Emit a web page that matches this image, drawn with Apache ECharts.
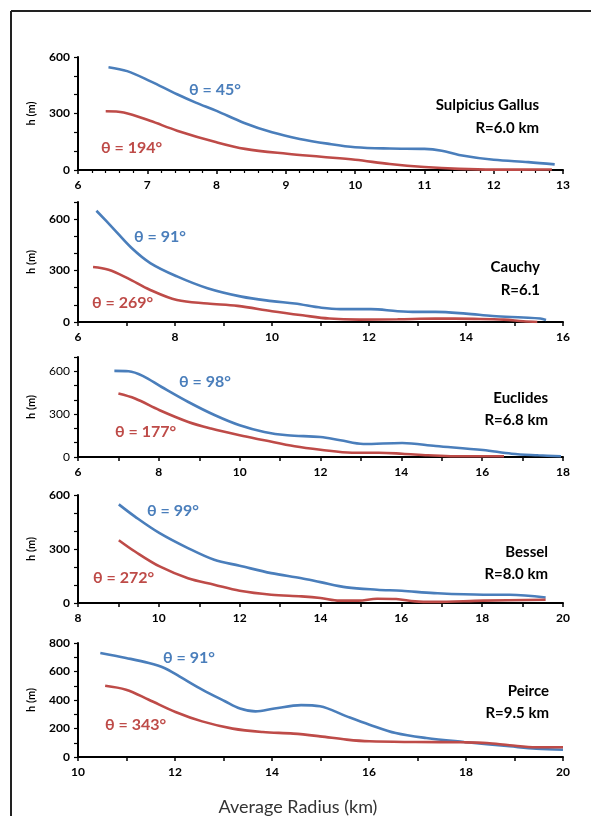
<!DOCTYPE html>
<html><head><meta charset="utf-8">
<script src="https://cdn.jsdelivr.net/npm/echarts@6/dist/echarts.min.js"></script>
<style>html,body{margin:0;padding:0;background:#fff}#c{width:591px;height:816px}</style>
</head><body><div id="c"></div>
<script>
// Panel names and radii
const craterNames = ["Sulpicius Gallus", "Cauchy", "Euclides", "Bessel", "Peirce"];
const craterRadii = ["R=6.0 km", "R=6.1", "R=6.8 km", "R=8.0 km", "R=9.5 km"];
const blueAngles = ["θ = 45°", "θ = 91°", "θ = 98°", "θ = 99°", "θ = 91°"];
const redAngles = ["θ = 194°", "θ = 269°", "θ = 177°", "θ = 272°", "θ = 343°"];
const xMins = [6, 6, 6, 8, 10];
const xMaxs = [13, 16, 18, 20, 20];
const yMaxs = [600, 700, 700, 600, 800];
const yLabelSteps = [300, 300, 300, 300, 200];
const xLabelSteps = [1, 2, 2, 2, 2];

// Series: [average radius km, h m]
const gallusBlue = [[6.44,546],[6.71,525],[7.04,472],[7.43,402],[7.70,358],[8.0,314],[8.4,250],[8.8,200],[9.2,165],[9.6,140],[10.0,121],[10.5,114],[11.0,112],[11.25,102],[11.5,80],[12.0,54],[12.5,42],[12.88,30]];
const gallusRed = [[6.40,312],[6.66,305],[7.04,261],[7.43,209],[8.0,147],[8.41,112],[9.02,86],[9.51,70],[10.0,54],[10.5,32],[11.0,16],[11.5,6],[12.0,2],[12.84,3]];
const cauchyBlue = [[6.38,649],[6.71,551],[7.10,433],[7.49,344],[8.04,266],[8.67,197],[9.37,148],[10.0,122],[10.47,108],[11.02,83],[11.41,75],[12.04,75],[12.59,63],[12.98,59],[13.37,59],[14.0,49],[14.55,35],[15.18,26],[15.53,20],[15.65,12]];
const cauchyRed = [[6.31,321],[6.63,305],[7.02,256],[7.49,187],[8.04,128],[8.67,108],[9.29,94],[10.0,63],[10.63,39],[11.18,20],[11.80,14],[12.59,16],[13.37,20],[14.16,18],[14.78,14],[15.18,4],[15.47,0]];
const euclidesBlue = [[6.9,603],[7.25,600],[7.6,568],[8.07,490],[8.73,385],[9.39,292],[10.0,222],[10.61,175],[11.18,152],[12.0,140],[12.49,117],[13.06,91],[14.02,98],[14.85,77],[16.02,49],[16.73,23],[17.39,12],[17.95,5]];
const euclidesRed = [[7.0,444],[7.41,409],[8.02,327],[8.73,245],[9.29,199],[10.0,152],[10.61,117],[11.36,75],[12.0,51],[12.78,30],[13.44,30],[14.02,23],[14.66,12],[15.32,5],[16.54,5]];
const besselBlue = [[9.01,548],[9.41,480],[10.02,388],[10.72,305],[11.37,240],[12.0,207],[12.78,166],[13.53,138],[14.0,116],[14.65,87],[15.40,74],[16.01,68],[16.81,55],[18.03,46],[18.68,46],[19.57,31]];
const besselRed = [[9.01,349],[9.41,286],[10.02,203],[10.72,138],[11.37,102],[12.0,68],[12.78,46],[13.53,37],[14.0,28],[14.47,13],[14.94,13],[15.40,24],[15.87,22],[16.34,9],[16.81,6],[18.03,13],[19.57,18]];
const peirceBlue = [[10.46,730],[10.99,695],[11.46,660],[11.78,625],[12.09,566],[12.56,473],[13.03,391],[13.34,340],[13.66,320],[14.05,340],[14.60,364],[14.99,356],[15.54,285],[16.01,227],[16.55,168],[17.18,133],[17.96,105],[18.90,75],[19.45,58],[20.0,51]];
const peirceRed = [[10.56,500],[10.99,472],[11.46,402],[12.01,316],[12.56,250],[13.19,199],[13.81,175],[14.44,164],[14.99,145],[15.54,122],[16.01,110],[16.95,105],[17.96,103],[18.43,98],[18.90,82],[19.45,68],[20.0,68]];

const blueSeries = [gallusBlue, cauchyBlue, euclidesBlue, besselBlue, peirceBlue];
const redSeries = [gallusRed, cauchyRed, euclidesRed, besselRed, peirceRed];

// Layout (pixels)
const gridTops = [57, 202, 357, 495, 643];
const gridBottoms = [170, 322, 457, 603, 757];
const blueLabelPos = [[189, 90], [134, 237], [179, 382], [147, 511], [163, 658]];
const redLabelPos = [[101, 148], [92, 303], [115, 432], [93, 578], [105, 725]];
const nameRight = [539, 540, 548, 548, 549];
const nameY = [105, 267, 398, 552, 691];
const radiusY = [128, 290, 420, 574, 713];

const BLUE = '#4A7EBB', RED = '#BE4B48';
const FONT = 'Lato, "Open Sans", sans-serif';

const grids = [], xAxes = [], yAxes = [], series = [], graphics = [];
for (let i = 0; i < 5; i++) {
  grids.push({ left: 78, right: 28, top: gridTops[i], height: gridBottoms[i] - gridTops[i] });
  const xs = xLabelSteps[i];
  xAxes.push({
    type: 'value', gridIndex: i, min: xMins[i], max: xMaxs[i], interval: 1,
    axisLine: { show: true, onZero: false, lineStyle: { color: '#000', width: 2 } },
    axisTick: { show: true, length: 4, lineStyle: { color: '#000', width: 1.5 } },
    minorTick: { show: i === 0, splitNumber: 5, length: 3, lineStyle: { color: '#000', width: 1.2 } },
    splitLine: { show: false },
    axisLabel: { margin: 9, color: '#000', fontFamily: FONT, fontWeight: 'bold', fontSize: 12,
      formatter: v => (Math.round(v) % xs === 0 ? String(v) : '') }
  });
  const ys = yLabelSteps[i];
  yAxes.push({
    type: 'value', gridIndex: i, min: 0, max: yMaxs[i], interval: 100,
    name: 'h (m)', nameLocation: 'middle', nameGap: 41, nameRotate: 90,
    nameTextStyle: { color: '#000', fontFamily: FONT, fontWeight: 'bold', fontSize: 11 },
    axisLine: { show: true, lineStyle: { color: '#000', width: 2 } },
    axisTick: { show: true, length: 4, lineStyle: { color: '#000', width: 1.2 } },
    splitLine: { show: false },
    axisLabel: { margin: 8, color: '#000', fontFamily: FONT, fontWeight: i === 2 ? 'normal' : 'bold', fontSize: 12,
      formatter: v => (v % ys === 0 ? String(v) : '') }
  });
  series.push({ type: 'line', xAxisIndex: i, yAxisIndex: i, data: blueSeries[i], smooth: 0.35, symbol: 'none',
    lineStyle: { color: BLUE, width: 2.6 } });
  series.push({ type: 'line', xAxisIndex: i, yAxisIndex: i, data: redSeries[i], smooth: 0.35, symbol: 'none',
    lineStyle: { color: RED, width: 2.6 } });
  graphics.push({ type: 'text', x: blueLabelPos[i][0], y: blueLabelPos[i][1],
    style: { text: blueAngles[i], fill: BLUE, font: 'bold 16px ' + FONT, align: 'left', verticalAlign: 'middle' } });
  graphics.push({ type: 'text', x: redLabelPos[i][0], y: redLabelPos[i][1],
    style: { text: redAngles[i], fill: RED, font: 'bold 16px ' + FONT, align: 'left', verticalAlign: 'middle' } });
  graphics.push({ type: 'text', x: nameRight[i], y: nameY[i],
    style: { text: craterNames[i], fill: '#000', font: 'bold 15px ' + FONT, align: 'right', verticalAlign: 'middle' } });
  graphics.push({ type: 'text', x: nameRight[i], y: radiusY[i],
    style: { text: craterRadii[i], fill: '#000', font: 'bold 15px ' + FONT, align: 'right', verticalAlign: 'middle' } });
}
graphics.push({ type: 'text', x: 298, y: 807,
  style: { text: 'Average Radius (km)', fill: '#333', font: '18px ' + FONT, align: 'center', verticalAlign: 'middle' } });
graphics.push({ type: 'line', shape: { x1: 11, y1: 11, x2: 591, y2: 11 }, style: { stroke: '#222', lineWidth: 2 } });
graphics.push({ type: 'line', shape: { x1: 11, y1: 11, x2: 11, y2: 816 }, style: { stroke: '#222', lineWidth: 2 } });

const chart = echarts.init(document.getElementById('c'), null, { renderer: 'canvas' });
chart.setOption({
  animation: false,
  backgroundColor: '#fff',
  grid: grids, xAxis: xAxes, yAxis: yAxes, series: series, graphic: graphics
});
</script>
</body></html>
